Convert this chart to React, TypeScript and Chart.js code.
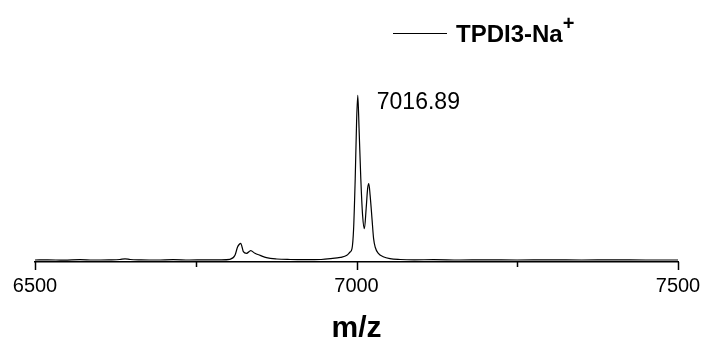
import React, { useEffect, useRef } from 'react';
import { Chart, registerables } from 'chart.js';

Chart.register(...registerables);

// m/z positions of the sampled spectrum
const mzValues = [
  6500, 6520, 6545, 6570, 6590, 6615, 6632, 6640, 6648, 6665, 6690, 6715, 6740, 6765,
  6790, 6803, 6811, 6815, 6817.5, 6820, 6822, 6824, 6829, 6835.5, 6842, 6850, 6860, 6876,
  6897, 6920, 6945, 6960, 6975, 6985, 6990, 6993, 6995.5, 6998, 7000.2, 7002, 7004,
  7006.7, 7009.5, 7012.3, 7015, 7017.3, 7019.1, 7021.2, 7024.3, 7026.6, 7029, 7034,
  7041.5, 7052, 7068, 7090, 7120, 7160, 7200, 7250, 7300, 7350, 7400, 7450, 7500,
];

// relative intensity (a.u.)
const intensities = [
  1.2, 1.3, 1.1, 1.4, 1.2, 1.3, 1.5, 1.9, 1.5, 1.3, 1.2, 1.4, 1.2, 1.3,
  1.3, 1.6, 4, 9, 10.5, 11.2, 9, 6.2, 5.2, 6.8, 5.2, 4, 2.6, 1.8,
  1.5, 1.4, 1.5, 2.0, 2.8, 4, 6, 8, 20, 50, 85, 100, 80,
  50, 28, 20, 32, 44, 47, 40, 25, 14, 9, 5.2,
  3.2, 2, 1.5, 1.3, 1.4, 1.2, 1.3, 1.2, 1.3, 1.2, 1.3, 1.2, 1.2,
];

const seriesName = 'TPDI3-Na';
const seriesCharge = '+';
const xTickValues = [6500, 6750, 7000, 7250, 7500];
const xMajorTicks = [6500, 7000, 7500];
const peakLabelMz = [7002];
const peakLabelText = ['7016.89'];
const xAxisTitle = 'm/z';

const FONT = '"Liberation Sans", Arial, Helvetica, sans-serif';

export default function App() {
  const ref = useRef<HTMLCanvasElement | null>(null);

  useEffect(() => {
    const canvas = ref.current;
    if (!canvas) return;

    const overlay = {
      id: 'overlay',
      afterDraw(chart: any) {
        const { ctx, chartArea, scales } = chart;
        const xs = scales.x;
        const ys = scales.y;
        ctx.save();
        // tick marks
        ctx.strokeStyle = '#000';
        ctx.lineWidth = 1.5;
        xTickValues.forEach((v) => {
          const px = Math.round(xs.getPixelForValue(v)) + 0.5;
          const len = xMajorTicks.includes(v) ? 8 : 5;
          ctx.beginPath();
          ctx.moveTo(px, chartArea.bottom);
          ctx.lineTo(px, chartArea.bottom + len);
          ctx.stroke();
        });
        // peak annotation
        ctx.fillStyle = '#000';
        ctx.font = `23px ${FONT}`;
        ctx.textBaseline = 'alphabetic';
        ctx.textAlign = 'left';
        peakLabelMz.forEach((mz, i) => {
          const idx = mzValues.indexOf(mz);
          const px = xs.getPixelForValue(mz);
          const py = ys.getPixelForValue(intensities[idx]);
          ctx.fillText(peakLabelText[i], px + 19, py + 14);
        });
        // legend
        const lx = 393;
        const ly = 33.5;
        ctx.strokeStyle = '#000';
        ctx.lineWidth = 1;
        ctx.beginPath();
        ctx.moveTo(lx, ly);
        ctx.lineTo(lx + 54, ly);
        ctx.stroke();
        ctx.font = `bold 24px ${FONT}`;
        ctx.fillText(seriesName, 456, 42);
        const w = ctx.measureText(seriesName).width;
        ctx.font = `bold 20px ${FONT}`;
        ctx.fillText(seriesCharge, 456 + w, 30);
        ctx.restore();
      },
    };

    const chart = new Chart(canvas, {
      type: 'line',
      data: {
        datasets: [
          {
            label: seriesName,
            data: mzValues.map((x, i) => ({ x, y: intensities[i] })),
            borderColor: '#000',
            borderWidth: 1.2,
            pointRadius: 0,
            fill: false,
            cubicInterpolationMode: 'monotone',
          },
        ],
      },
      options: {
        responsive: false,
        animation: false,
        layout: { padding: { left: 35, right: 26, top: 62, bottom: 0 } },
        plugins: {
          legend: { display: false },
          tooltip: { enabled: false },
        },
        scales: {
          x: {
            type: 'linear',
            min: 6500,
            max: 7500,
            afterBuildTicks: (scale: any) => {
              scale.ticks = xTickValues.map((v) => ({ value: v }));
            },
            afterFit: (scale: any) => {
              scale.height = 82;
              scale.paddingLeft = 0;
              scale.paddingRight = 0;
            },
            grid: { display: false, drawTicks: false },
            border: { display: true, color: '#000', width: 1.5 },
            ticks: {
              autoSkip: false,
              maxRotation: 0,
              padding: 12,
              color: '#000',
              font: { family: FONT, size: 20 },
              callback: (v: any) => (xMajorTicks.includes(Number(v)) ? String(v) : ''),
            },
            title: {
              display: true,
              text: xAxisTitle,
              color: '#000',
              font: { family: FONT, size: 30, weight: 'bold', lineHeight: 1 },
              padding: { top: 0, bottom: 0 },
            },
          },
          y: {
            display: false,
            min: 0,
            max: 120,
          },
        },
      },
      plugins: [overlay],
    } as any);

    return () => chart.destroy();
  }, []);

  return (
    <div style={{ position: 'fixed', left: 0, top: 0, width: 704, height: 344, background: '#fff' }}>
      <canvas ref={ref} width={704} height={344} />
    </div>
  );
}
